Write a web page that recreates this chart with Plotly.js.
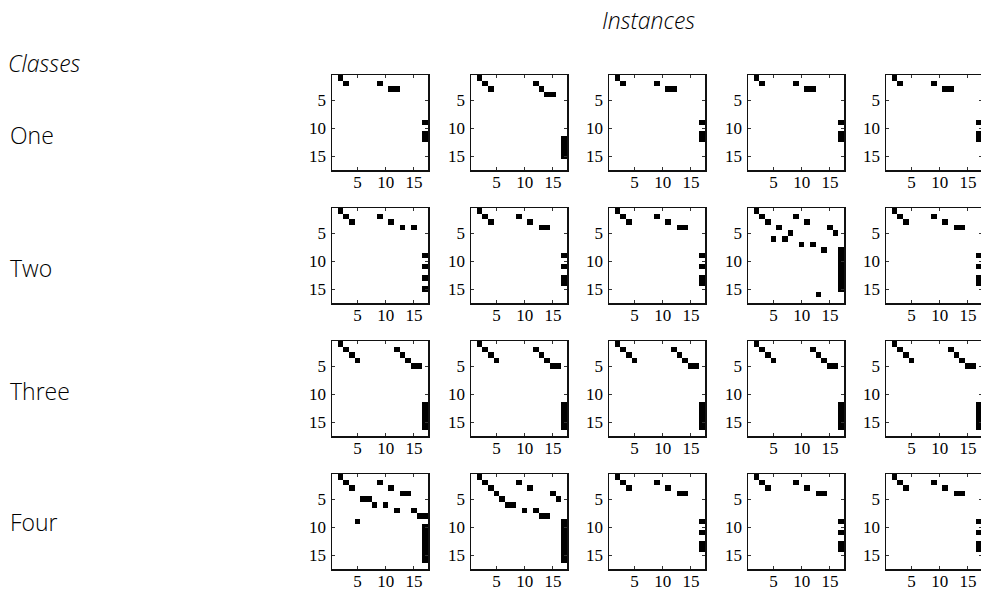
<!DOCTYPE html>
<html>
<head>
<meta charset="utf-8">
<script src="https://cdn.plot.ly/plotly-3.0.1.min.js"></script>
<style>
  html, body { margin: 0; padding: 0; background: #fff; overflow: hidden; }
  #chart { width: 990px; height: 590px; }
</style>
</head>
<body>
<div id="chart"></div>
<script>
// Matrix size (rows = cols = 17)
const N = 17;

const classNames = ["One", "Two", "Three", "Four"];
const instanceCount = 5;
const tickValues = [5, 10, 15];
const tickLabels = ["5", "10", "15"];

// Filled cells of each structure, given as [row, col] (1-based)
const structA = [[1,2],[2,3],[2,9],[3,11],[3,12],[9,17],[11,17],[12,17]];
const structB = [[1,2],[2,3],[3,4],[2,12],[3,13],[4,14],[4,15],
                 [12,17],[13,17],[14,17],[15,17]];
const structC = [[1,2],[2,3],[3,4],[2,9],[3,11],[4,13],[4,15],
                 [9,17],[11,17],[13,17],[15,17]];
const structD = [[1,2],[2,3],[3,4],[2,9],[3,11],[4,13],[4,14],
                 [9,17],[11,17],[13,17],[14,17]];
const structE = [[1,2],[2,3],[3,4],[2,9],[3,11],[4,6],[4,15],[5,8],[5,16],
                 [6,5],[6,7],[7,10],[7,12],[8,14],
                 [8,17],[9,17],[10,17],[11,17],[12,17],[13,17],[14,17],[15,17],
                 [16,13]];
const structF = [[1,2],[2,3],[3,4],[4,5],[2,12],[3,13],[4,14],[5,15],[5,16],
                 [12,17],[13,17],[14,17],[15,17],[16,17]];
const structG = [[1,2],[2,3],[3,4],[2,9],[3,11],[4,13],[4,14],[5,6],[5,7],
                 [6,8],[6,10],[7,12],[7,15],[8,16],[8,17],[9,5],
                 [10,17],[11,17],[12,17],[13,17],[14,17],[15,17],[16,17]];
const structH = [[1,2],[2,3],[3,4],[4,5],[5,6],[6,7],[6,8],[2,9],[3,11],
                 [7,10],[7,12],[8,13],[8,14],[4,15],[5,16],
                 [9,17],[10,17],[11,17],[12,17],[13,17],[14,17],[15,17],[16,17]];

// Which structure each class / instance shows
const panelGrid = [
  [structA, structB, structA, structA, structA],
  [structC, structD, structD, structE, structD],
  [structF, structF, structF, structF, structF],
  [structG, structH, structD, structD, structD]
];

function toMatrix(cells) {
  const z = [];
  for (let r = 0; r < N; r++) z.push(new Array(N).fill(0));
  cells.forEach(([r, c]) => { z[r - 1][c - 1] = 1; });
  return z;
}

// Page is slightly wider than the window so the last column runs off the edge
const W = 990, H = 590;
const panelW = 96, panelH = 95;
const colLeft = [332, 471, 609, 748, 886];
const rowTop = [75, 208, 341, 474];

const idx = [];
for (let i = 1; i <= N; i++) idx.push(i);

const data = [];
const layout = {
  width: W, height: H,
  margin: { l: 0, r: 0, t: 0, b: 0 },
  paper_bgcolor: "#fff",
  plot_bgcolor: "#fff",
  showlegend: false,
  annotations: []
};

const tickFont = { family: "Liberation Serif, Times New Roman, serif", size: 17, color: "#000" };

panelGrid.forEach((row, r) => {
  row.forEach((cells, c) => {
    const k = r * instanceCount + c + 1;
    const suffix = k === 1 ? "" : String(k);
    data.push({
      type: "heatmap",
      x: idx, y: idx, z: toMatrix(cells),
      zmin: 0, zmax: 1,
      colorscale: [[0, "#ffffff"], [1, "#000000"]],
      showscale: false,
      hoverinfo: "skip",
      xaxis: "x" + suffix,
      yaxis: "y" + suffix
    });
    const x0 = colLeft[c];
    const y0 = rowTop[r];
    const common = {
      showline: true, linecolor: "#111", linewidth: 1.5, mirror: "ticks",
      ticks: "inside", ticklen: 3, tickwidth: 1, tickcolor: "#333",
      tickvals: tickValues, ticktext: tickLabels, tickfont: tickFont,
      showgrid: false, zeroline: false, fixedrange: true
    };
    layout["xaxis" + suffix] = Object.assign({}, common, {
      domain: [x0 / W, (x0 + panelW) / W],
      range: [0.5, N + 0.5],
      ticklabelstandoff: -4,
      anchor: "y" + suffix
    });
    layout["yaxis" + suffix] = Object.assign({}, common, {
      domain: [1 - (y0 + panelH) / H, 1 - y0 / H],
      range: [N + 0.5, 0.5],
      ticklabelstandoff: 1,
      anchor: "x" + suffix
    });
  });
});

const labelFont = { family: "Open Sans, Lato, sans-serif", size: 23, weight: 300, color: "#000" };
const rowLabelY = [135, 268, 391, 522];

layout.annotations.push({
  text: "<i>Instances</i>", xref: "paper", yref: "paper",
  x: 648 / W, y: 1 - 20 / H, xanchor: "center", yanchor: "middle",
  showarrow: false, font: labelFont
});
layout.annotations.push({
  text: "<i>Classes</i>", xref: "paper", yref: "paper",
  x: 6 / W, y: 1 - 63 / H, xanchor: "left", yanchor: "middle",
  showarrow: false, font: labelFont
});
classNames.forEach((name, i) => {
  layout.annotations.push({
    text: name, xref: "paper", yref: "paper",
    x: 8 / W, y: 1 - rowLabelY[i] / H, xanchor: "left", yanchor: "middle",
    showarrow: false, font: labelFont
  });
});

Plotly.newPlot("chart", data, layout, { staticPlot: true, displayModeBar: false });
</script>
</body>
</html>
